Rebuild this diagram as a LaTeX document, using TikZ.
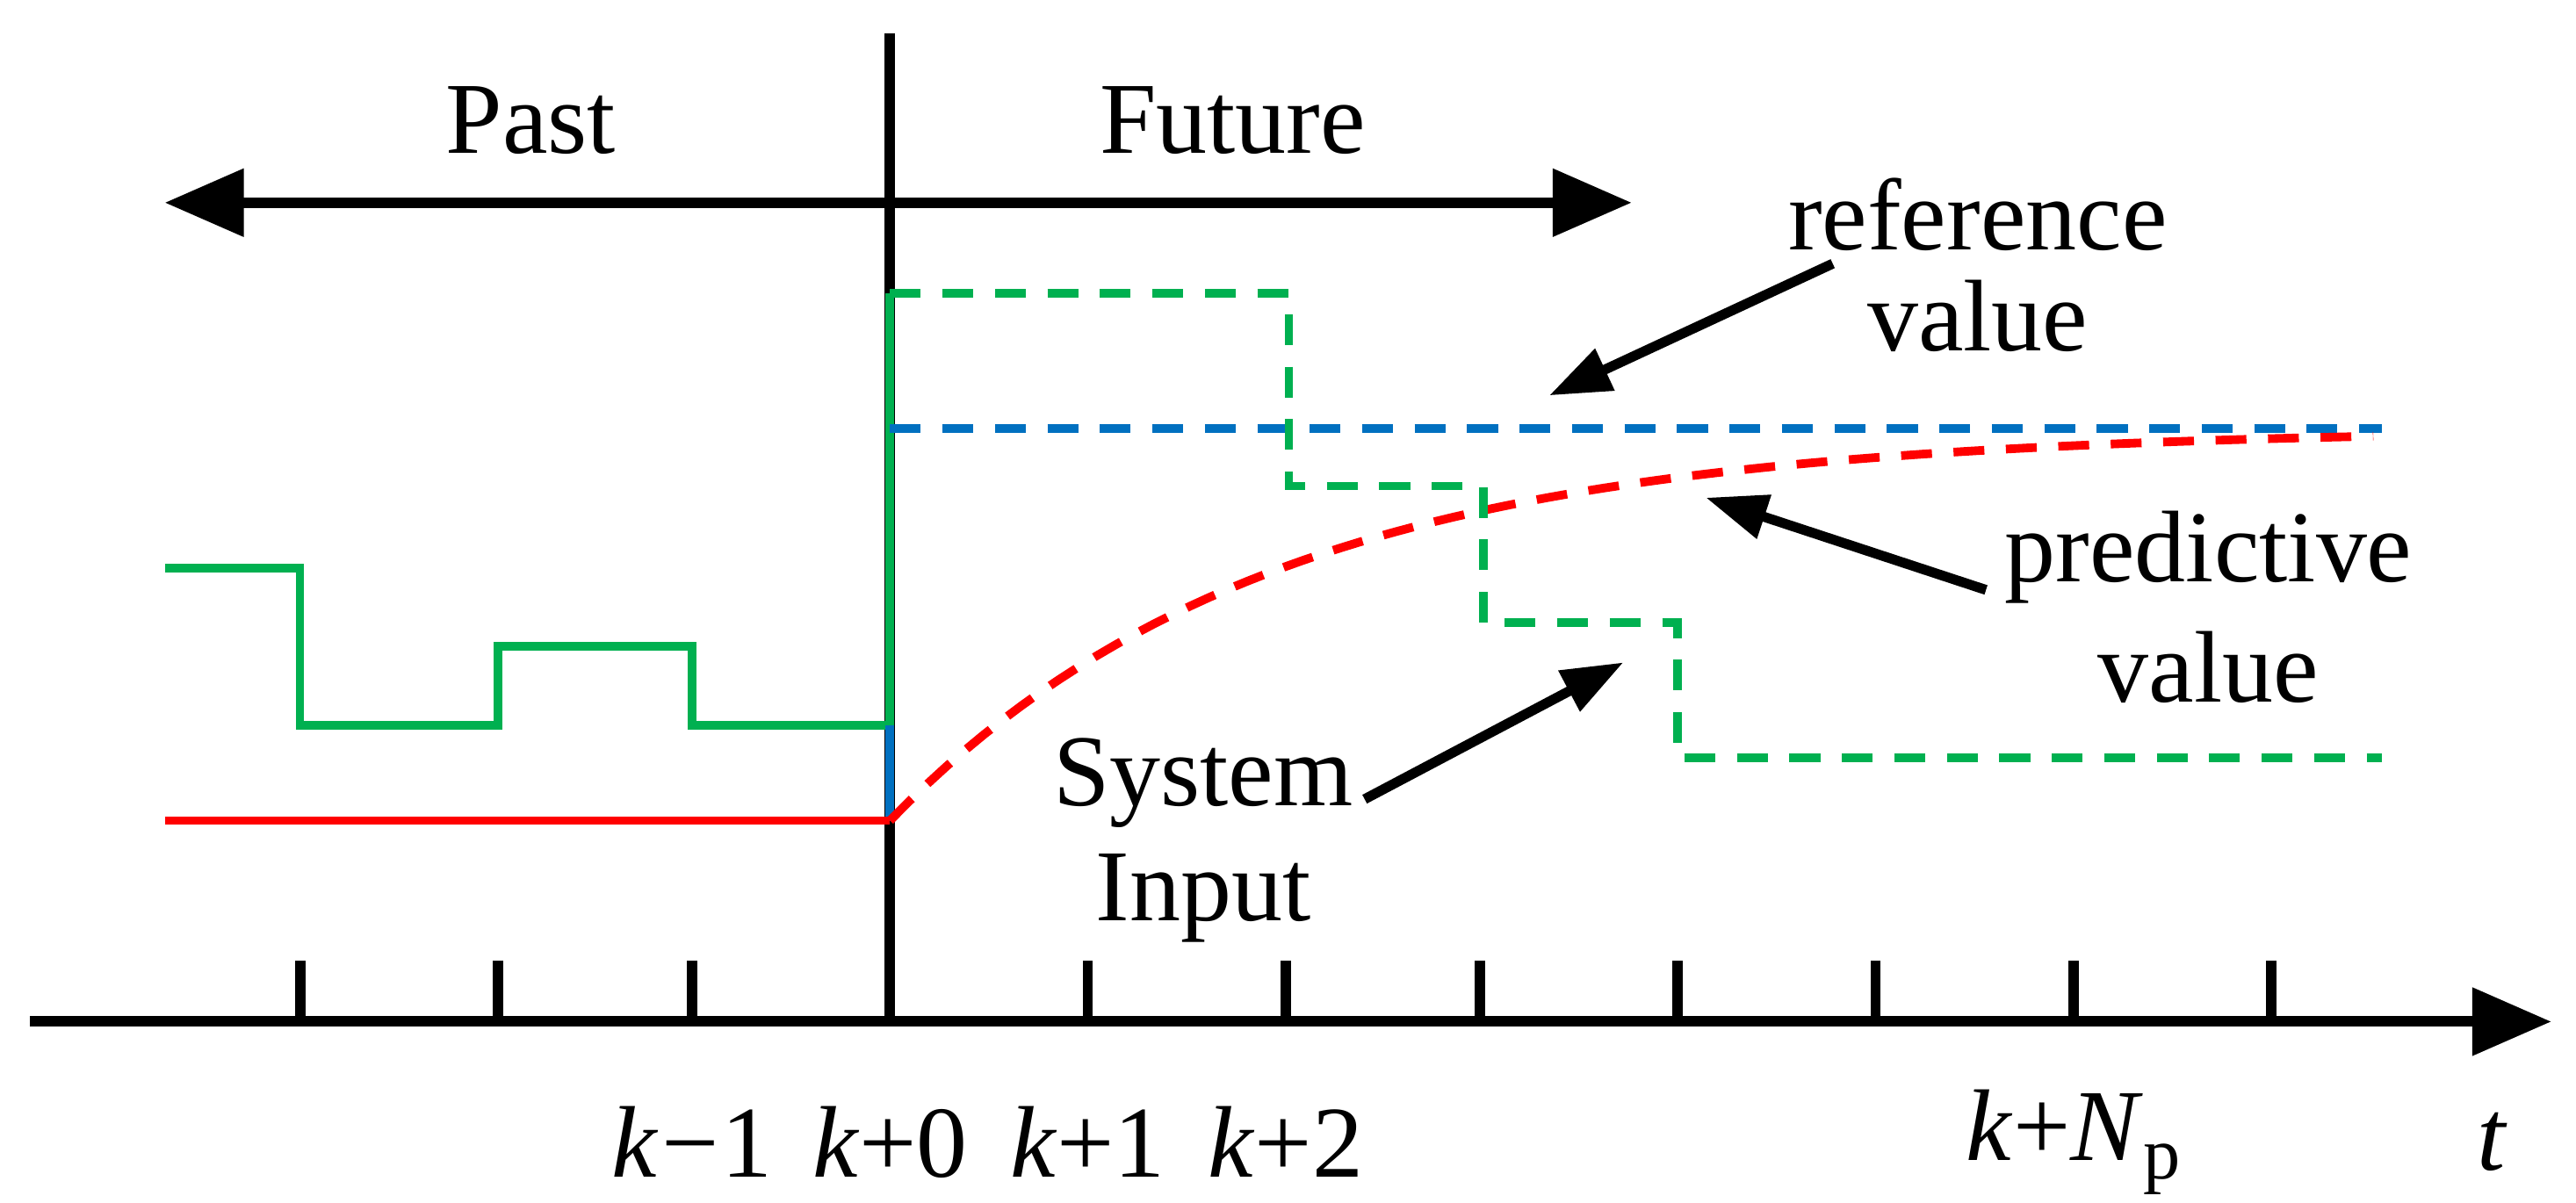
\documentclass[tikz,border=0pt]{standalone}
\usepackage{fontspec}
\setmainfont{Liberation Serif}
\usetikzlibrary{arrows.meta}
\begin{document}
\begin{tikzpicture}[x=0.018766cm,y=-0.018766cm,
  lbl/.style={font=\fontsize{33}{38}\selectfont,inner sep=0pt},
  ax/.style={line width=3.4pt,black},
  big/.style={-{Triangle[length=0.9cm,width=0.75cm]}},
  ann/.style={line width=3.2pt,-{Triangle[length=0.7cm,width=0.5cm]}},
  sol/.style={line width=2.8pt},
  dsh/.style={line width=2.8pt,dash pattern=on 10pt off 7pt}]
\useasboundingbox (0,0) rectangle (1563,730);
\definecolor{gr}{RGB}{0,176,80}
\definecolor{bl}{RGB}{0,112,192}
\definecolor{rd}{RGB}{255,0,0}
% axis
\coordinate (a0) at (18,620); \coordinate (a1) at (1548,620);
\draw[ax,big] (a0) -- (a1);
\coordinate (v0) at (540,20); \coordinate (v1) at (540,620);
\draw[ax] (v0) -- (v1);
\foreach \x in {182,302,420,660,780,898,1018,1138,1258,1378}
  \draw[ax] (\x,583) -- (\x,620);
% past/future
\coordinate (p0) at (100,123); \coordinate (p1) at (990,123);
\draw[ax,{Triangle[length=0.9cm,width=0.75cm]}-{Triangle[length=0.9cm,width=0.75cm]}] (p0) -- (p1);
\node[lbl] (past) at (322,73) {Past};
\node[lbl] (fut) at (748,73) {Future};
% signals
\draw[sol,gr] (100,345) -| (182,440) -| (302,392) -| (420,440) -| (540,178);
\draw[sol,bl] (540,440) -- (540,498);
\draw[sol,rd] (100,498) -- (540,498);
\draw[dsh,bl] (540,260) -- (1445,260);
\draw[dsh,rd,domain=540:1440,samples=80] plot (\x,{260+238*exp(-(\x-540)/230)});
\draw[dsh,gr] (540,178) -| (782,295) -| (900,378) -| (1018,460) -- (1445,460);
% annotations
\node[lbl] (ref1) at (1200,130) {reference};
\node[lbl] (ref2) at (1200,192) {value};
\coordinate (rt) at (940,240);
\draw[ann] (1112,160) -- (rt);
\node[lbl] (pr1) at (1340,338) {predictive};
\node[lbl] (pr2) at (1340,405) {value};
\coordinate (pt) at (1035,302);
\draw[ann] (1205,358) -- (pt);
\node[lbl] (si1) at (730,475) {System};
\node[lbl] (si2) at (730,545) {Input};
\coordinate (st) at (985,402);
\draw[ann] (828,485) -- (st);
% tick labels
\node[lbl] (t1) at (420,693) {\textit{k}\kern1pt−\kern1pt1};
\node[lbl] (t2) at (540,693) {\textit{k}+0};
\node[lbl] (t3) at (660,693) {\textit{k}+1};
\node[lbl] (t4) at (780,693) {\textit{k}+2};
\node[lbl] (t5) at (1258,693) {\textit{k}+\textit{N}\raisebox{-6pt}{\fontsize{24}{26}\selectfont p}};
\node[lbl] (t6) at (1512,693) {\textit{t}};
\end{tikzpicture}
\end{document}
